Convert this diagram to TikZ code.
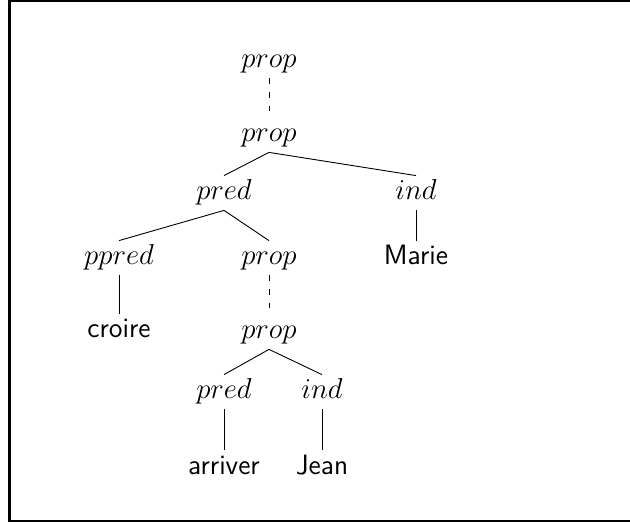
\documentclass[tikz,border=0pt]{standalone}
\begin{document}
\begin{tikzpicture}[x=0.5pt,y=-0.5pt,
  lbl/.style={inner sep=0pt,text height=12pt,text depth=5pt,font=\fontsize{14.3}{17}\selectfont},
  leaf/.style={lbl,font=\fontsize{14}{17}\selectfont\sffamily},
  edge/.style={line width=0.45pt},
  dedge/.style={line width=0.45pt,dash pattern=on 2.8pt off 4pt}]
\useasboundingbox (0,0) rectangle (630,522);
\draw[line width=1.2pt] (9.5,0.5) rectangle (640,521);
\node[lbl] (p1) at (269,61) {$prop$};
\node[lbl] (p2) at (269,135) {$prop$};
\node[lbl] (pr1) at (224,193) {$pred$};
\node[lbl] (in1) at (416,193) {$ind$};
\node[leaf] (marie) at (416,258) {Marie};
\node[lbl] (ppr) at (119,258) {$ppred$};
\node[lbl] (p3) at (269,258) {$prop$};
\node[leaf] (croire) at (119,331) {croire};
\node[lbl] (p4) at (269,332) {$prop$};
\node[lbl] (pr2) at (224,392) {$pred$};
\node[lbl] (in2) at (322,392) {$ind$};
\node[leaf] (arr) at (224,467) {arriver};
\node[leaf] (jean) at (322,467) {Jean};
\draw[dedge] (p1.south) -- (p2.north);
\draw[edge] (p2.south) -- (pr1.north);
\draw[edge] (p2.south) -- (in1.north);
\draw[edge] (in1.south) -- (marie.north);
\draw[edge] (pr1.south) -- (ppr.north);
\draw[edge] (pr1.south) -- (p3.north);
\draw[edge] (ppr.south) -- (croire.north);
\draw[dedge] (p3.south) -- (p4.north);
\draw[edge] (p4.south) -- (pr2.north);
\draw[edge] (p4.south) -- (in2.north);
\draw[edge] (pr2.south) -- (arr.north);
\draw[edge] (in2.south) -- (jean.north);
\end{tikzpicture}
\end{document}
